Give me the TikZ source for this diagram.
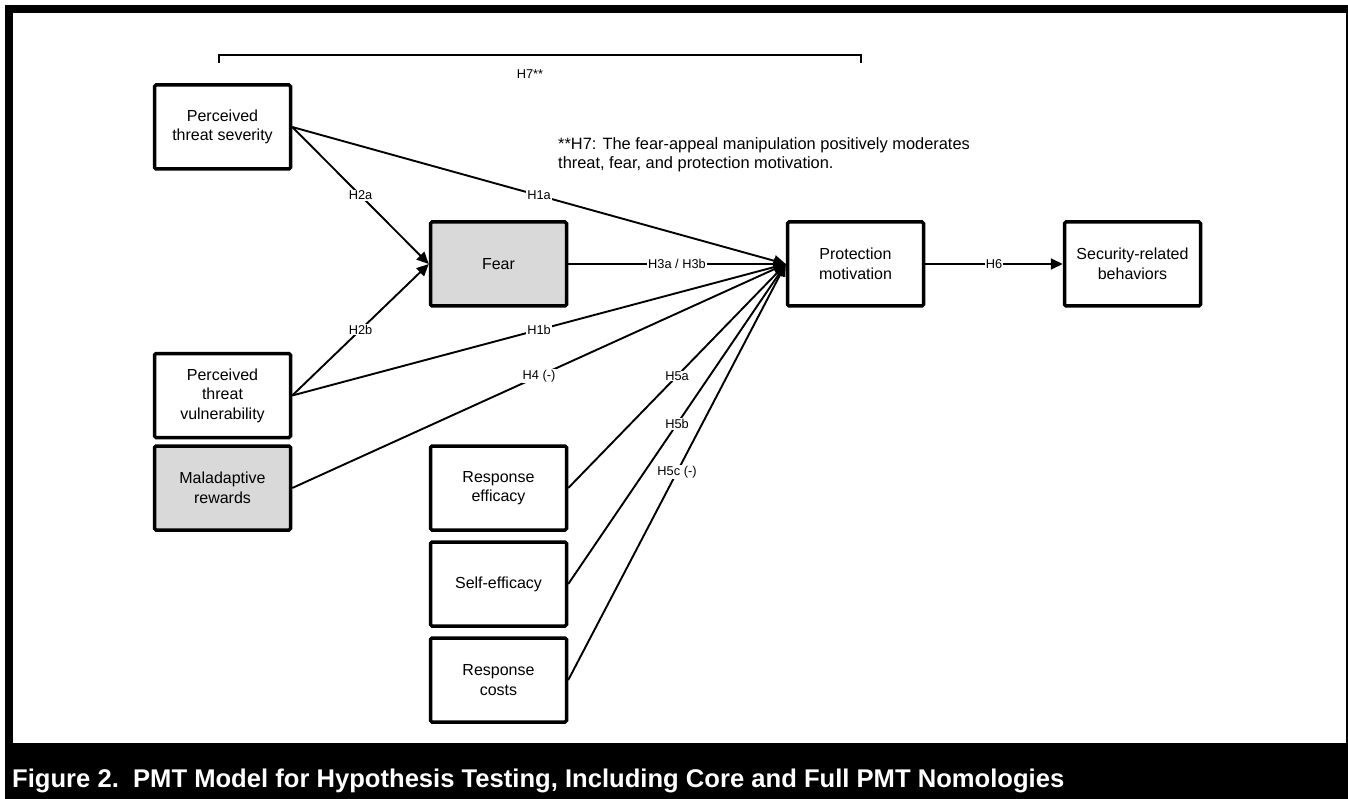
\documentclass[tikz,border=0pt]{standalone}
\usepackage{fontspec}
\setmainfont{Liberation Sans}
\usetikzlibrary{arrows.meta}
\definecolor{boxgray}{RGB}{217,217,217}
\newcommand{\boxfont}{\fontsize{16}{19.5}\selectfont}
\newcommand{\lblfont}{\fontsize{12.8}{14}\selectfont}
\newcommand{\notefont}{\fontsize{16.4}{19.5}\selectfont}
\newcommand{\capfont}{\fontsize{25.6}{30}\selectfont\bfseries}
\tikzset{
  box/.style={draw, line width=3.5pt, rounded corners=1.5pt,
    minimum width=136pt, minimum height=84pt, align=center,
    inner sep=0pt, font=\boxfont},
  shaded/.style={box, fill=boxgray},
  link/.style={line width=1.9pt},
  arrowlink/.style={link, -{Triangle[length=12pt,width=11pt]}},
  lbl/.style={fill=white, inner sep=1pt, font=\lblfont, pos=0.5}
}
\begin{document}
\begin{tikzpicture}[x=1pt, y=-1pt]
  \useasboundingbox (0,0) rectangle (1348,799);
  % frame and caption band
  \fill[white] (0,0) rectangle (1348,799);
  \fill[black] (5,5) rectangle (1348,799);
  \fill[white] (13,13) rectangle (1346,743);
  \node[anchor=base west, inner sep=0pt, text=white, font=\capfont] (caption) at (12,787)
    {Figure 2.\hspace{0.556em}PMT Model for Hypothesis Testing, Including Core and Full PMT Nomologies};

  % constructs
  \node[box]    (pts) at (222.5,127)   {Perceived\\threat severity};
  \node[box]    (ptv) at (222.5,395.5) {Perceived\\threat\\vulnerability};
  \node[shaded] (mr)  at (222.5,488)   {Maladaptive\\rewards};
  \node[shaded] (fear) at (498.5,264)  {Fear};
  \node[box]    (re)  at (498.5,488)   {Response\\efficacy};
  \node[box]    (se)  at (498.5,584)   {Self-efficacy};
  \node[box]    (rc)  at (498.5,680)   {Response\\costs};
  \node[box]    (pm)  at (855.5,264)   {Protection\\motivation};
  \node[box]    (srb) at (1132.5,264)  {Security-related\\behaviors};

  % moderation bracket
  \coordinate (bl) at (219,63);
  \coordinate (br) at (861,63);
  \draw[line width=2.5pt] (bl) -- (bl |- 0,55) -- (br |- 0,55) -- (br);
  \node[font=\lblfont, inner sep=0pt] (h7) at (530,74) {H7**};
  \node[anchor=north west, inner sep=0pt, align=left, font=\notefont] (note) at (558,137)
    {**H7: The fear-appeal manipulation positively moderates\\threat, fear, and protection motivation.};

  % paths
  \draw[arrowlink] (pts.east) -- node[lbl] {H2a} (fear.west);
  \draw[arrowlink] (ptv.east) -- node[lbl] {H2b} (fear.west);
  \draw[arrowlink] (pts.east) -- node[lbl] {H1a} (pm.west);
  \draw[arrowlink] (fear.east) -- node[lbl] {H3a / H3b} (pm.west);
  \draw[arrowlink] (ptv.east) -- node[lbl] {H1b} (pm.west);
  \draw[arrowlink] (mr.east) -- node[lbl] {H4 (-)} (pm.west);
  \draw[arrowlink] (re.east) -- node[lbl] {H5a} (pm.west);
  \draw[arrowlink] (se.east) -- node[lbl] {H5b} (pm.west);
  \draw[arrowlink] (rc.east) -- node[lbl] {H5c (-)} (pm.west);
  \draw[arrowlink] (pm.east) -- node[lbl] {H6} (srb.west);
\end{tikzpicture}
\end{document}
